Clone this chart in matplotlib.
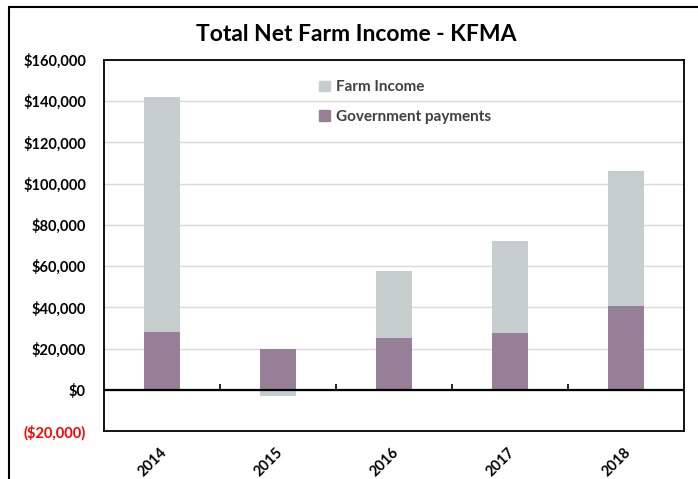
import matplotlib
matplotlib.use("Agg")
import matplotlib.pyplot as plt  # noqa
from matplotlib.patches import Patch, Rectangle  # noqa
import numpy as np  # noqa

# Data
years = ["2014", "2015", "2016", "2017", "2018"]
gov_payments = [28000, 20000, 25000, 27500, 40500]
farm_income = [114000, -3000, 32500, 44500, 65500]
y_ticks = [-20000, 0, 20000, 40000, 60000, 80000, 100000, 120000, 140000, 160000]

farm_color = "#C5CDCD"
gov_color = "#977F98"

plt.rcParams["font.family"] = ["Lato", "DejaVu Sans"]

fig = plt.figure(figsize=(6.98, 4.79), dpi=100)
ax = fig.add_axes([0.149, 0.100, 0.831, 0.775])

x = np.arange(len(years))
width = 0.31
# Government payments sit at the bottom, farm income stacked on top
# (negative farm income hangs below zero like Excel does)
farm_bottom = [g if f >= 0 else 0 for g, f in zip(gov_payments, farm_income)]
ax.bar(x, gov_payments, width=width, color=gov_color, zorder=2)
ax.bar(x, farm_income, width=width, bottom=farm_bottom, color=farm_color,
       zorder=2)

ax.set_xlim(-0.5, len(years) - 0.5)
ax.set_ylim(y_ticks[0], y_ticks[-1])

# y axis labels
labels = [f"${v:,.0f}" if v >= 0 else f"(${-v:,.0f})" for v in y_ticks]
ax.set_yticks(y_ticks)
ax.set_yticklabels(labels, fontsize=10.5, fontweight="bold")
for lab, v in zip(ax.get_yticklabels(), y_ticks):
    if v < 0:
        lab.set_color("red")
ax.tick_params(axis="y", length=0, pad=13)
ax.yaxis.grid(True, color="#D9D9D9", linewidth=1, zorder=0)

# x axis labels, rotated below the plot
ax.set_xticks(x)
ax.set_xticklabels(years, fontsize=10.5, fontweight="bold", rotation=45,
                   ha="center", va="top")
ax.tick_params(axis="x", length=0, pad=10)
for lab in ax.get_xticklabels():
    lab.set_transform(lab.get_transform() +
                      matplotlib.transforms.ScaledTranslation(-0.09, 0,
                                                              fig.dpi_scale_trans))

# zero line with small category separators
ax.axhline(0, color="black", linewidth=1.6, zorder=3)
ax.vlines(x[:-1] + 0.5, 0, 2600, color="black", linewidth=1.2, zorder=3)

for spine in ax.spines.values():
    spine.set_color("black")
    spine.set_linewidth(1.3)

handles = [Patch(color=farm_color, label="Farm Income"),
           Patch(color=gov_color, label="Government payments")]
leg = ax.legend(handles=handles, loc="upper left", bbox_to_anchor=(0.347, 0.982),
                frameon=False, handlelength=0.7, handleheight=0.7,
                handletextpad=0.4, labelspacing=1.0,
                prop={"size": 11, "weight": "bold"})
for t in leg.get_texts():
    t.set_color("#404040")

fig.text(0.510, 0.927, "Total Net Farm Income - KFMA", ha="center",
         va="center", fontsize=16.5, fontweight="bold")

# outer chart frame (runs off the right and bottom edges)
fig.patches.append(Rectangle((9 / 698, -0.05), 1.1, 1 - 7 / 479 + 0.05,
                             transform=fig.transFigure, fill=False,
                             edgecolor="black", linewidth=1.5))

fig.savefig("out.png", dpi=100)
